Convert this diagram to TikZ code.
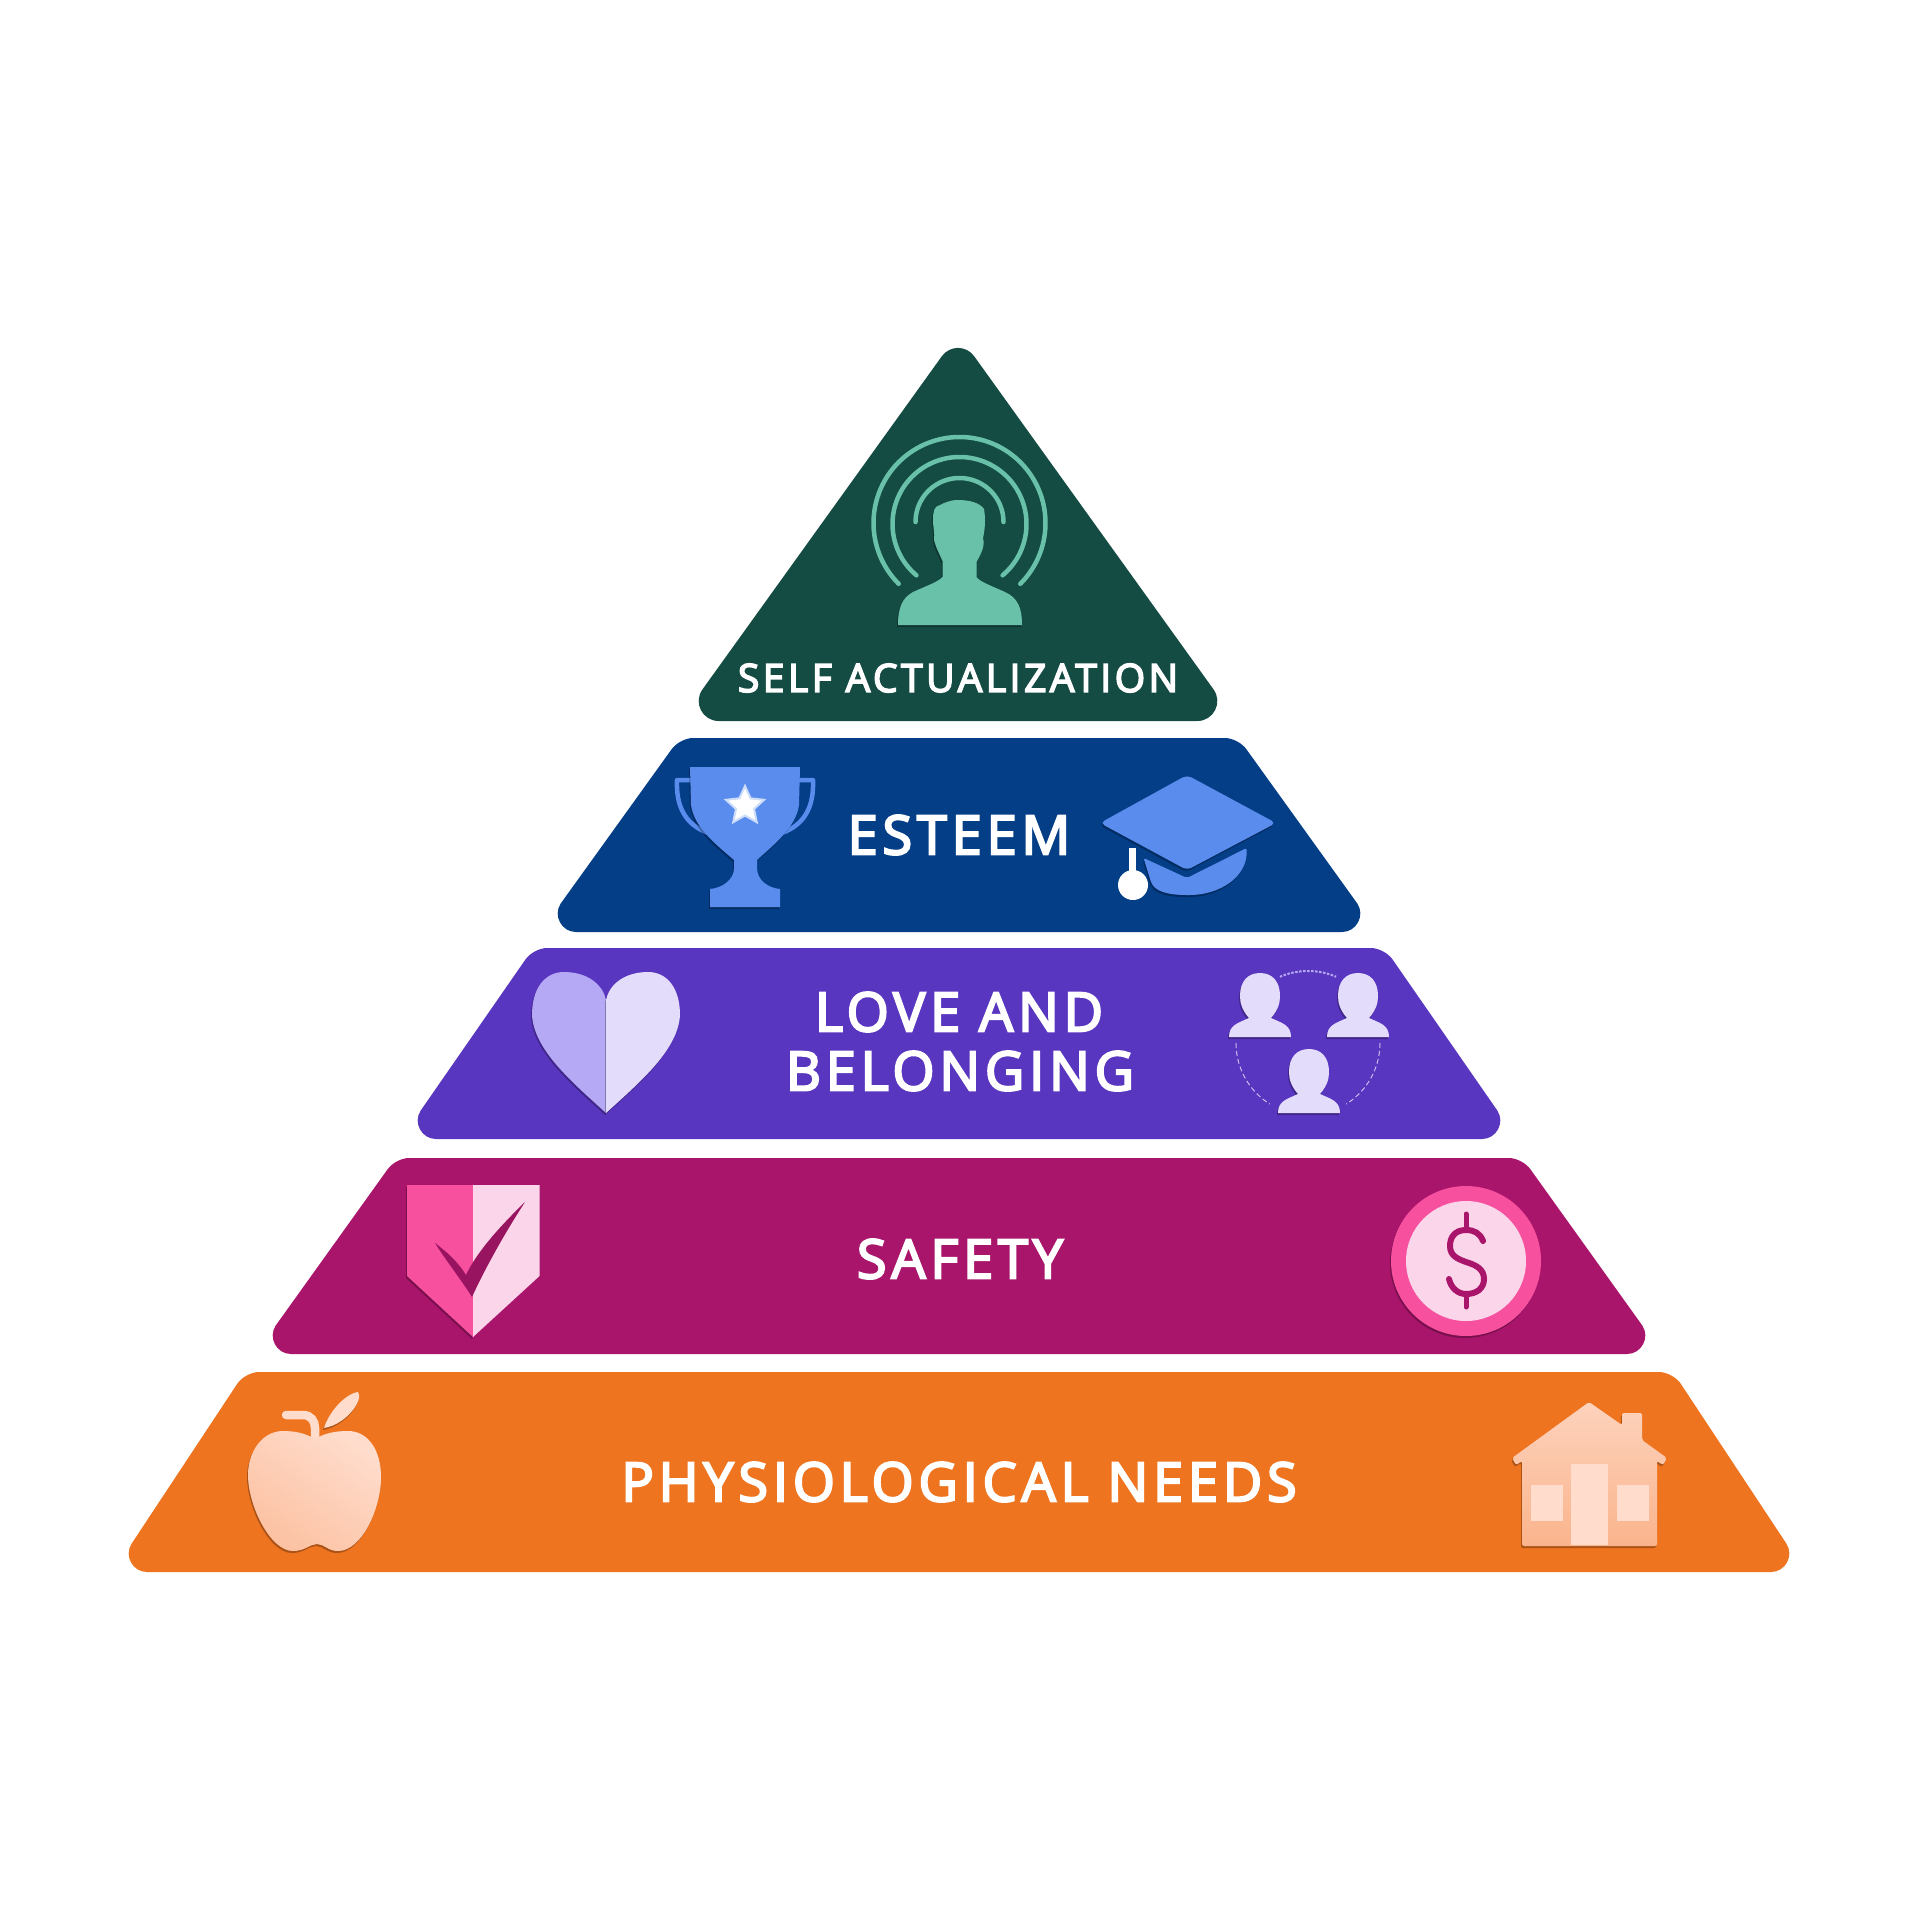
\documentclass[tikz,border=0pt]{standalone}
\usepackage{fontspec}
\setmainfont{Open Sans}
\newfontfamily\lab{Open Sans}[LetterSpace=9,FakeBold=4]
\usetikzlibrary{shapes.geometric}
\definecolor{grnD}{HTML}{144B43}\definecolor{grnL}{HTML}{68C1A8}
\definecolor{bluD}{HTML}{033E87}\definecolor{bluL}{HTML}{5A8CEE}
\definecolor{vioD}{HTML}{5936BF}\definecolor{vioL}{HTML}{E3DCFB}\definecolor{vioM}{HTML}{B5A8F5}
\definecolor{magD}{HTML}{A9156B}\definecolor{magM}{HTML}{F6509F}\definecolor{magL}{HTML}{FBD5E9}
\definecolor{orgD}{HTML}{EE7420}\definecolor{orgL}{HTML}{FFDCCC}\definecolor{orgM}{HTML}{FBBB98}
% #1 colour, #2 top y, #3 bottom y, #4 top half-width, #5 bottom half-width
\newcommand{\bandshape}[5]{\fill[#1]
 ({959-#4+14},#2) -- ({959+#4-14},#2)
 .. controls ({959+#4-6.3},#2) and ({959+#4+3.5},{#2+5.3}) .. ({959+#4+7.7},{#2+11.7})
 -- ({959+#5-18.65},{#3-28.4})
 .. controls ({959+#5-10.75},{#3-16.4}) and ({959+#5-19.6},#3) .. ({959+#5-34},#3)
 -- ({959-#5+34},#3)
 .. controls ({959-#5+19.6},#3) and ({959-#5+10.75},{#3-16.4}) .. ({959-#5+18.65},{#3-28.4})
 -- ({959-#4-7.7},{#2+11.7})
 .. controls ({959-#4-3.5},{#2+5.3}) and ({959-#4+6.3},#2) .. ({959-#4+14},#2) -- cycle;}
\newcommand{\personicon}[2]{\begin{scope}[shift={(#1,#2)}]
\fill[vioL,raised] (-31,64) .. controls (-31,52) and (-22,50) .. (-11,45) .. controls (-18,37) and (-20,30) .. (-20,23) .. controls (-20,8) and (-12,0) .. (0,0) .. controls (12,0) and (20,8) .. (20,23) .. controls (20,30) and (18,37) .. (11,45) .. controls (22,50) and (31,52) .. (31,64) -- cycle;
\end{scope}}
\tikzset{
 raised/.style={preaction={fill=black,fill opacity=.28,transform canvas={shift={(-1pt,-2pt)}}}},
 bandlabel/.style={font=\lab\fontsize{54}{60}\selectfont,text=white,inner sep=0pt,align=center},
 halo/.style={draw=grnL,line width=4.5,line cap=round,fill=none,smooth},
}
\begin{document}
\begin{tikzpicture}[x=1pt,y=-1pt]
\useasboundingbox (0,0) rectangle (1920,1920);
\fill[white] (0,0) rectangle (1920,1920);
% --- tiers
\fill[grnD,shift={(-1,0)}] (719.7,721) .. controls (703.5,721) and (694,702.7) .. (703.4,689.5) -- (942.8,356.3) .. controls (950.8,345.1) and (967.2,345.1) .. (975.2,356.3) -- (1214.6,689.5) .. controls (1224,702.7) and (1214.5,721) .. (1198.3,721) -- cycle;
\bandshape{bluD}{738}{932}{280}{417}
\bandshape{vioD}{948}{1139}{426}{557}
\bandshape{magD}{1158}{1354}{564}{702}
\bandshape{orgD}{1372}{1572}{714}{846}
% --- self actualization icon
\draw[halo] plot[domain=135:405,samples=70] ({959.5+86*cos(\x)},{523+86*sin(\x)});
\draw[halo] plot[domain=130:410,samples=70] ({959.5+67*cos(\x)},{524+67*sin(\x)});
\draw[halo] plot[domain=180:360,samples=50] ({959.5+44*cos(\x)},{522+44*sin(\x)});
\fill[grnL,raised] (898,625) -- (1022,625) .. controls (1022,608) and (1018,598) .. (1005,592) .. controls (992,586) and (980,582) .. (976.5,577) -- (976.5,562) .. controls (982,552) and (985,546) .. (983,538) .. controls (986,525) and (985,515) .. (984,509) .. controls (980,503) and (970,500) .. (958,500) .. controls (950,500) and (944,503) .. (940,505) .. controls (934,506) and (933,512) .. (933,520) .. controls (933,528) and (935,533) .. (934,540) .. controls (936,548) and (940,555) .. (942.5,561) -- (942.5,577) .. controls (938,582) and (926,586) .. (913,592) .. controls (902,598) and (898,608) .. (898,625) -- cycle;
% --- esteem: trophy
\draw[bluL,line width=4.5,line join=round] (692,780) -- (677,780) .. controls (676,805) and (684,824) .. (708,833);
\draw[bluL,line width=4.5,line join=round] (798,780) -- (813,780) .. controls (814,805) and (806,824) .. (782,833);
\fill[bluL,raised] (690,767) -- (800,767) -- (799,805) .. controls (796,828) and (772,846) .. (757,860) -- (757,868) .. controls (757,880) and (768,888) .. (780,889) -- (780,907) -- (710,907) -- (710,889) .. controls (722,888) and (734,880) .. (734,868) -- (734,860) .. controls (718,846) and (694,828) .. (691,805) -- cycle;
\node[star,star points=5,star point ratio=2.1,fill=white,draw=white!70!bluL,line width=2,inner sep=0,minimum size=40] (trophystar) at (745,806) {};
% --- esteem: cap
\fill[bluL,raised,rounded corners=2] (1143.6,858) -- (1187,878) -- (1246.6,848) .. controls (1248,878) and (1218,895) .. (1188,895) .. controls (1170,895) and (1156,892) .. (1151,882) -- cycle;
\fill[bluL,raised,rounded corners=5] (1187,775) -- (1276,823) -- (1187,870) -- (1100,823) -- cycle;
\fill[white] (1129,848) -- (1136,848) -- (1136,875) -- (1129,875) -- cycle;
\fill[white] (1133,885) circle[radius=15];
% --- love: heart
\fill[vioM,raised] (606,1113) .. controls (572,1082) and (534,1050) .. (532,1015) .. controls (532,988) and (545,972) .. (564,972) .. controls (588,972) and (603,985) .. (606,1000) -- cycle;
\fill[vioL,raised] (606,1113) .. controls (640,1082) and (678,1050) .. (680,1015) .. controls (680,988) and (667,972) .. (648,972) .. controls (624,972) and (609,985) .. (606,1000) -- cycle;
% --- love: people
\draw[vioL!80!vioD,line width=1,dash pattern=on 5 off 3] plot[domain=180:122,samples=30] ({1308+72*cos(\x)},{1043+72*sin(\x)});
\draw[vioL!80!vioD,line width=1,dash pattern=on 5 off 3] plot[domain=0:58,samples=30] ({1308+72*cos(\x)},{1043+72*sin(\x)});
\draw[vioM,line width=2,dash pattern=on 2.5 off 1.5] plot[domain=247:293,samples=30] ({1308+72*cos(\x)},{1043+72*sin(\x)});
\personicon{1260}{973}
\personicon{1358}{973}
\personicon{1309}{1049}
% --- safety: shield
\fill[magM,raised] (407,1185) -- (473,1185) -- (473,1337) -- (407,1276) -- cycle;
\fill[magL] (473,1185) -- (539.5,1185) -- (539.5,1276) -- (473,1337) -- cycle;
\fill[magD!90!black] (435,1243) .. controls (447,1252) and (458,1262) .. (466,1275) .. controls (474,1258) and (490,1236) .. (525,1202) .. controls (510,1225) and (488,1262) .. (472,1297) .. controls (460,1278) and (447,1262) .. (435,1243) -- cycle;
% --- safety: coin
\fill[magM,raised] (1466,1261) circle[radius=75];
\fill[magL] (1466,1261) circle[radius=60];
\draw[magD,line width=6,line cap=round] (1483,1241) .. controls (1480,1233) and (1474,1230) .. (1466,1230) .. controls (1455,1230) and (1450,1237) .. (1450,1246) .. controls (1450,1256) and (1458,1259) .. (1466,1262) .. controls (1476,1265) and (1484,1269) .. (1484,1279) .. controls (1484,1288) and (1477,1294) .. (1466,1294) .. controls (1458,1294) and (1451,1288) .. (1449,1279);
\draw[magD,line width=5,line cap=round] (1466,1214) -- (1466,1230);
\draw[magD,line width=5,line cap=round] (1466,1294) -- (1466,1307);
% --- physiological: apple
\draw[orgL,line width=8.5,line cap=round] (286,1415) -- (303,1415) .. controls (311,1415) and (315,1421) .. (315,1428) -- (315,1440);
\fill[orgL,raised] (324,1428) .. controls (328,1414) and (344,1394) .. (358,1392) .. controls (364,1398) and (348,1424) .. (324,1428) -- cycle;
\shade[top color=orgL,bottom color=orgM!80!orgL,shading angle=-35,raised] (315,1439) .. controls (305,1433) and (295,1431) .. (283,1431) .. controls (262,1431) and (248,1452) .. (248,1475) .. controls (248,1505) and (270,1551) .. (293,1551) .. controls (305,1551) and (310,1544) .. (317,1544) .. controls (324,1544) and (328,1551) .. (338,1551) .. controls (362,1551) and (381,1508) .. (381,1477) .. controls (381,1450) and (368,1431) .. (348,1431) .. controls (335,1431) and (325,1433) .. (315,1439) -- cycle;
% --- physiological: house
\shade[top color=orgL!70!orgM,bottom color=orgM!90!orgD,raised,rounded corners=2] (1589,1402) -- (1622,1425) -- (1622,1413) -- (1642,1413) -- (1642,1440) -- (1667,1458) -- (1663,1465) -- (1657,1461) -- (1657,1546) -- (1522,1546) -- (1522,1461) -- (1516,1465) -- (1512,1458) -- cycle;
\fill[orgL] (1571,1464) rectangle (1608,1545);
\fill[orgL] (1531,1485) rectangle (1563,1521);
\fill[orgL] (1617,1485) rectangle (1649,1521);
% --- labels
\node[bandlabel,font=\lab\fontsize{39}{44}\selectfont] (selfl) at (958,678) {SELF ACTUALIZATION};
\node[bandlabel] (esteeml) at (959,835) {ESTEEM};
\node[bandlabel] (lovel) at (959,1012) {LOVE AND};
\node[bandlabel] (belongl) at (960,1071) {BELONGING};
\node[bandlabel] (safetyl) at (960,1259) {SAFETY};
\node[bandlabel] (physl) at (959,1482) {PHYSIOLOGICAL NEEDS};
\end{tikzpicture}
\end{document}
